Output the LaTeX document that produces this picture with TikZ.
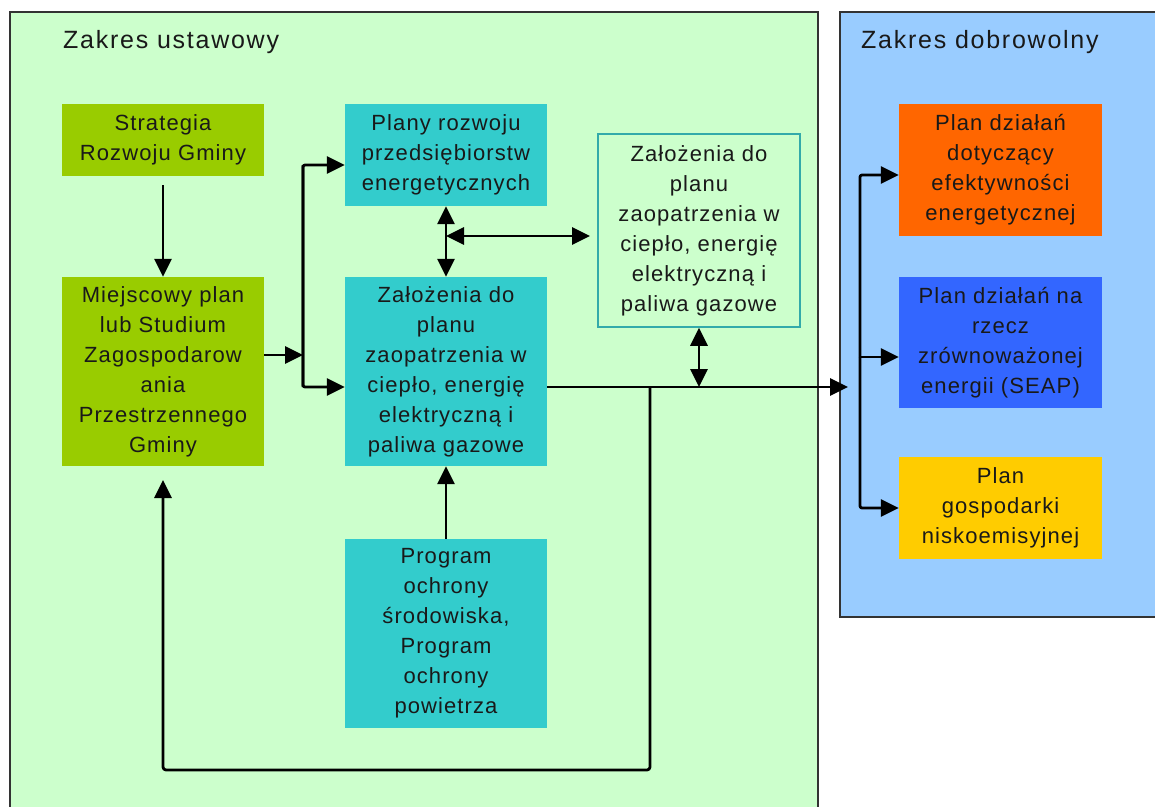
\documentclass[tikz,border=0pt]{standalone}
\usepackage{fontspec}
\setmainfont{Liberation Sans}
\newfontfamily\boxfamily{Liberation Sans}[LetterSpace=5]
\newfontfamily\titlefamily{Liberation Sans}[LetterSpace=7]
\usetikzlibrary{arrows.meta}
\definecolor{panelgreen}{HTML}{CCFFCC}
\definecolor{panelblue}{HTML}{99CCFF}
\definecolor{olive}{HTML}{99CC00}
\definecolor{tealbox}{HTML}{33CCCC}
\definecolor{tealline}{HTML}{33AAAA}
\definecolor{orangebox}{HTML}{FF6600}
\definecolor{bluebox}{HTML}{3366FF}
\definecolor{yellowbox}{HTML}{FFCC00}
\definecolor{frame}{HTML}{333333}
\begin{document}
\begin{tikzpicture}[x=1pt,y=-1pt,
  blk/.style={minimum width=202pt, inner sep=0pt, align=center,
    font=\boxfamily\fontsize{22}{30}\selectfont, text=black!90,
    execute at begin node={\rule{0pt}{22pt}}},
  oliveblk/.style={blk, fill=olive},
  tealblk/.style={blk, fill=tealbox},
  outlineblk/.style={blk, draw=tealline, line width=1.5pt, fill=panelgreen},
  panel/.style={draw=frame, line width=1.5pt},
  title/.style={anchor=base west, inner sep=0pt, font=\titlefamily\fontsize{25}{30}\selectfont, text=black!90},
  ln/.style={line width=2.8pt, line join=round, draw=black},
  arr/.style={ln, -{Triangle[length=18pt,width=17pt]}},
  dbl/.style={ln, {Triangle[length=18pt,width=17pt]}-{Triangle[length=18pt,width=17pt]}}
]
\useasboundingbox (0,0) rectangle (1155,806);
\fill[white] (0,0) rectangle (1155,806);
% panels
\path[panel, fill=panelgreen] (10,12) rectangle (818,840);
\path[panel, fill=panelblue] (840,12) rectangle (1180,617);
\node[title] (t1) at (63,48) {Zakres ustawowy};
\node[title] (t2) at (861,48) {Zakres dobrowolny};
% boxes
\node[oliveblk, minimum height=72pt] (strat) at (163,140) {Strategia\\Rozwoju Gminy};
\node[oliveblk, minimum height=189pt] (miej) at (163,371.5) {Miejscowy plan\\lub Studium\\Zagospodarow\\ania\\Przestrzennego\\Gminy};
\node[tealblk, minimum height=102pt] (plany) at (446,155) {Plany rozwoju\\przedsiębiorstw\\energetycznych};
\node[tealblk, minimum height=189pt] (zal) at (446,371.5) {Założenia do\\planu\\zaopatrzenia w\\ciepło, energię\\elektryczną i\\paliwa gazowe};
\node[outlineblk, minimum height=193pt] (zal2) at (699,230.5) {Założenia do\\planu\\zaopatrzenia w\\ciepło, energię\\elektryczną i\\paliwa gazowe};
\node[tealblk, minimum height=189pt] (prog) at (446,633.5) {Program\\ochrony\\środowiska,\\Program\\ochrony\\powietrza};
\node[blk, minimum width=203pt, minimum height=132pt, fill=orangebox] (ora) at (1000.5,170) {Plan działań\\dotyczący\\efektywności\\energetycznej};
\node[blk, minimum width=203pt, minimum height=131pt, fill=bluebox] (blu) at (1000.5,342.5) {Plan działań na\\rzecz\\zrównoważonej\\energii (SEAP)};
\node[blk, minimum width=203pt, minimum height=102pt, fill=yellowbox] (yel) at (1000.5,508) {Plan\\gospodarki\\niskoemisyjnej};
% coordinates
\coordinate (jm) at (303,355);
\coordinate (jt) at (303,165);
\coordinate (jb) at (303,387);
\coordinate (hh) at (446,236);
\coordinate (hend) at (590,236);
\coordinate (mainy) at (699,387);
\coordinate (lp) at (650,387);
\coordinate (lc1) at (650,770);
\coordinate (lc2) at (163,770);
\coordinate (lend) at (163,480);
\coordinate (rin) at (848,387);
\coordinate (rt) at (860,175);
\coordinate (rm) at (860,357);
\coordinate (rb) at (860,508);
% connectors
\draw[arr] ([yshift=-9pt]strat.south) -- (miej.north);
\draw[arr] (miej.east |- jm) -- (jm);
\draw[arr, rounded corners=2pt] (jb) -- (jt) -- (plany.west |- jt);
\draw[arr, rounded corners=2pt] (jt) -- (jb) -- (zal.west |- jb);
\draw[dbl] (plany.south) -- (zal.north);
\draw[dbl] (hh) -- (hend);
\draw[dbl] (zal2.south) -- (mainy);
\draw[arr] (zal.east |- rin) -- (rin);
\draw[arr, rounded corners=3pt] (lp) -- (lc1) -- (lc2) -- (lend);
\draw[arr] (prog.north) -- (zal.south);
\draw[arr, rounded corners=2pt] (rm) -- (rt) -- (ora.west |- rt);
\draw[arr, rounded corners=2pt] (rm) -- (rb) -- (yel.west |- rb);
\draw[arr] (rm) -- (blu.west |- rm);
\end{tikzpicture}
\end{document}
